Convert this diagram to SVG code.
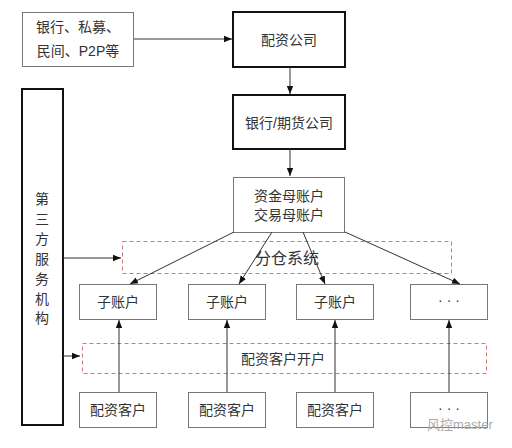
<svg xmlns="http://www.w3.org/2000/svg" width="512" height="448" viewBox="0 0 512 448">
<style>
  text { font-family: "Liberation Sans", "Noto Sans CJK SC", sans-serif; font-size: 14px; fill: #333; text-anchor: middle; dominant-baseline: central; }
  .thin { fill: #fff; stroke: #777; stroke-width: 1; }
  .thick { fill: #fff; stroke: #111; stroke-width: 2; }
  .dash { fill: none; stroke: #c97a7a; stroke-width: 1; stroke-dasharray: 4 3; }
  .conn line { stroke: #333; stroke-width: 1; marker-end: url(#ah); }
  .big { font-size: 16px; }
  .wm { fill: #aaa; font-size: 13px; text-anchor: start; }
</style>
<defs>
  <marker id="ah" viewBox="0 0 10 10" refX="10" refY="5" markerWidth="8" markerHeight="8" markerUnits="userSpaceOnUse" orient="auto">
    <path d="M0,1 L10,5 L0,9 Z" fill="#111"/>
  </marker>
</defs>
<rect width="512" height="448" fill="#fff"/>

<g id="sources">
  <rect class="thin" x="22.5" y="12.5" width="111" height="54"/>
  <text x="78" y="27">银行、私募、</text>
  <text x="78" y="51">民间、P2P等</text>
</g>
<g id="peizi">
  <rect class="thick" x="233" y="12" width="112" height="55"/>
  <text x="289" y="40">配资公司</text>
</g>
<g id="bank">
  <rect class="thick" x="233" y="95" width="112" height="54"/>
  <text x="289" y="123">银行/期货公司</text>
</g>
<g id="parent">
  <rect class="thin" x="233.5" y="177.5" width="111" height="55"/>
  <text x="289" y="196">资金母账户</text>
  <text x="289" y="215">交易母账户</text>
</g>
<g id="third">
  <rect class="thick" x="22" y="89" width="41" height="336"/>
  <text x="42" y="199">第</text>
  <text x="42" y="219">三</text>
  <text x="42" y="239">方</text>
  <text x="42" y="259">服</text>
  <text x="42" y="279">务</text>
  <text x="42" y="299">机</text>
  <text x="42" y="318">构</text>
</g>
<g id="fencang">
  <rect class="dash" x="122.5" y="241.5" width="329" height="32"/>
  <text class="big" x="287" y="258">分仓系统</text>
</g>
<g id="kaihu">
  <rect class="dash" x="82.5" y="343.5" width="404" height="30"/>
  <text x="283" y="359">配资客户开户</text>
</g>
<g id="sub1">
  <rect class="thin" x="79.5" y="284.5" width="77" height="35"/>
  <text x="118" y="302">子账户</text>
</g>
<g id="sub2">
  <rect class="thin" x="188.5" y="284.5" width="77" height="35"/>
  <text x="227" y="302">子账户</text>
</g>
<g id="sub3">
  <rect class="thin" x="296.5" y="284.5" width="77" height="35"/>
  <text x="335" y="302">子账户</text>
</g>
<g id="sub4">
  <rect class="thin" x="410.5" y="284.5" width="77" height="35"/>
  <text x="449" y="300">· · ·</text>
</g>
<g id="client1">
  <rect class="thin" x="79.5" y="392.5" width="77" height="35"/>
  <text x="118" y="410">配资客户</text>
</g>
<g id="client2">
  <rect class="thin" x="188.5" y="392.5" width="77" height="35"/>
  <text x="227" y="410">配资客户</text>
</g>
<g id="client3">
  <rect class="thin" x="296.5" y="392.5" width="77" height="35"/>
  <text x="335" y="410">配资客户</text>
</g>
<g id="client4">
  <rect class="thin" x="410.5" y="392.5" width="77" height="35"/>
  <text x="449" y="408">· · ·</text>
</g>

<g class="conn" id="connectors">
  <line x1="134" y1="39" x2="232" y2="39"/>
  <line x1="290" y1="67" x2="290" y2="94"/>
  <line x1="290" y1="149" x2="290" y2="176"/>
  <line x1="234" y1="232" x2="130" y2="284"/>
  <line x1="272" y1="232" x2="239" y2="284"/>
  <line x1="303" y1="232" x2="325" y2="284"/>
  <line x1="345" y1="232" x2="460" y2="284"/>
  <line x1="63" y1="258" x2="121" y2="258"/>
  <line x1="63" y1="356" x2="80" y2="356"/>
  <line x1="119" y1="392" x2="119" y2="320"/>
  <line x1="227" y1="392" x2="227" y2="320"/>
  <line x1="335" y1="392" x2="335" y2="320"/>
  <line x1="449" y1="392" x2="449" y2="320"/>
</g>

<text class="wm" x="427" y="424">风控master</text>
</svg>
